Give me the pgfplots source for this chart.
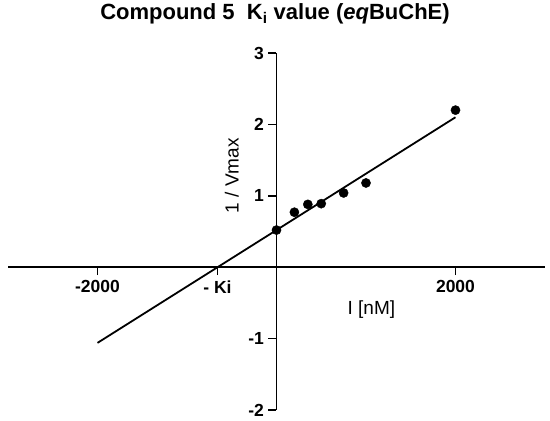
\documentclass[border=0pt]{standalone}
\usepackage{pgfplots}
\pgfplotsset{compat=1.18}
\usepackage{fontspec}
\setmainfont{Liberation Sans}
\begin{document}
\begin{tikzpicture}[x=1pt,y=1pt]
\useasboundingbox (0,0) rectangle (550,421);
\begin{axis}[
  at={(8pt,11pt)}, anchor=south west,
  scale only axis, width=537pt, height=357pt,
  axis lines=middle, axis line style={line width=1.8pt, -},
  xmin=-3000, xmax=3000, ymin=-2, ymax=3,
  xtick={-2000,-660,2000}, xticklabels={-2000,- Ki,2000},
  ytick={-2,-1,1,2,3}, yticklabels={-2,-1,1,2,3},
  tick style={line width=1.8pt, black},
  tick align=outside, major tick length=8pt,
  tick label style={font=\fontsize{17.5}{19}\selectfont\bfseries},
  xticklabel style={yshift=-2pt},
  yticklabel style={xshift=-1pt},
  clip=false,
]
\addplot[black, line width=1.8pt] coordinates {(-2000,-1.06) (2000,2.10)};
\addplot[only marks, mark=*, mark size=4.6pt, black] coordinates {
  (0,0.52) (200,0.77) (350,0.88) (500,0.89) (750,1.04) (1000,1.18) (2000,2.20)};
\node[font=\fontsize{19}{21}\selectfont] at (axis cs:1060,-0.6) {I [nM]};
\node[font=\fontsize{19}{21}\selectfont, rotate=90] at (axis cs:-500,1.28) {1 / Vmax};
\end{axis}
\node[font=\fontsize{22}{24}\selectfont\bfseries] at (275,407) {Compound 5\ \ K\textsubscript{i} value (\textit{eq}BuChE)};
\end{tikzpicture}
\end{document}
